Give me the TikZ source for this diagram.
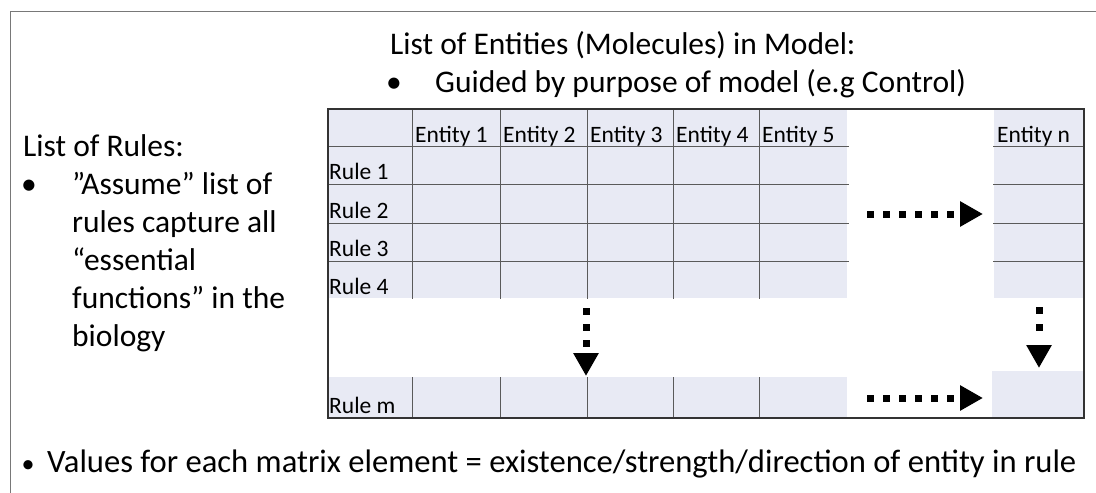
\documentclass[tikz,border=0pt]{standalone}
\usepackage{fontspec}
\setmainfont{Carlito}
\usetikzlibrary{arrows.meta}
\definecolor{cellfill}{RGB}{232,234,244}
\definecolor{gridline}{RGB}{90,90,90}
\definecolor{frameline}{RGB}{120,120,120}
\tikzset{
  bigtext/.style={anchor=base west,inner sep=0pt,font=\fontsize{31.5}{38}\selectfont},
  bottomfont/.style={anchor=base west,inner sep=0pt,font=\fontsize{32.6}{38}\selectfont},
  celltext/.style={anchor=base west,inner sep=0pt,font=\fontsize{23.5}{26}\selectfont},
  grid/.style={draw=gridline,line width=0.9pt},
  border/.style={draw=black!80,line width=1.3pt},
  dotarrow/.style={line width=7pt,dash pattern=on 7pt off 9pt,
    -{Triangle[length=23pt,width=24pt]}},
}
\begin{document}
\begin{tikzpicture}[x=1pt,y=-1pt]
\useasboundingbox (0,0) rectangle (1096,493);
% outer frame (cut off at right and bottom)
\draw[frameline,line width=1pt] (1100,11) -- (10,11) -- (10,497);
% fills
\fill[cellfill] (328,109) rectangle (847,298);
\fill[cellfill] (994,109) rectangle (1084,298);
\fill[cellfill] (328,377) rectangle (847,418);
\fill[cellfill] (992,371) rectangle (1084,418);
% grid lines upper block
\foreach \y in {146,184,223,261} {
  \draw[grid] (328,\y) -- (849,\y);
  \draw[grid] (993,\y) -- (1084,\y);
}
\foreach \x in {412,500,587,673,759} {
  \draw[grid] (\x,109) -- (\x,299);
  \draw[grid] (\x,377) -- (\x,418);
}
% table border
\draw[border] (328,109) rectangle (1084,418);
% header texts
\node[celltext] (e1) at (415,142) {Entity 1};
\node[celltext] (e2) at (503,142) {Entity 2};
\node[celltext] (e3) at (590,142) {Entity 3};
\node[celltext] (e4) at (676,142) {Entity 4};
\node[celltext] (e5) at (762,142) {Entity 5};
\node[celltext] (en) at (997,142) {Entity n};
\node[celltext] (r1) at (329,179) {Rule 1};
\node[celltext] (r2) at (329,218) {Rule 2};
\node[celltext] (r3) at (329,256) {Rule 3};
\node[celltext] (r4) at (329,294) {Rule 4};
\node[celltext] (rm) at (329,413) {Rule m};
% arrows
\coordinate (h1s) at (867,214); \coordinate (h1e) at (983,214);
\coordinate (h2s) at (867,398); \coordinate (h2e) at (983,398);
\coordinate (v1s) at (586,308); \coordinate (v1e) at (586,376);
\coordinate (v2s) at (1039,307); \coordinate (v2e) at (1039,368);
\draw[dotarrow] (h1s) -- (h1e);
\draw[dotarrow] (h2s) -- (h2e);
\draw[dotarrow] (v1s) -- (v1e);
\draw[dotarrow,dash pattern=on 7pt off 10pt on 7pt off 40pt] (v2s) -- (v2e);
% top text
\node[bigtext] (toptitle) at (390,54) {List of Entities (Molecules) in Model:};
\node[bigtext,anchor=base] (topbullet) at (394,92) {•};
\node[bigtext] (topitem) at (435,92) {Guided by purpose of model (e.g Control)};
% left text
\node[bigtext] (lefttitle) at (23,156) {List of Rules:};
\node[bigtext,anchor=base] (leftbullet) at (29,194) {•};
\node[bigtext,align=left,anchor=north west] (leftitem) at (72,194-22) {%
”Assume” list of\\rules capture all\\“essential\\functions” in the\\biology};
% bottom text
\node[bottomfont,anchor=base] (bottombullet) at (28,472) {\fontsize{26}{30}\selectfont •};
\node[bottomfont] (bottomtext) at (47,472) {Values for each matrix element = existence/strength/direction of entity in rule};
\end{tikzpicture}
\end{document}
